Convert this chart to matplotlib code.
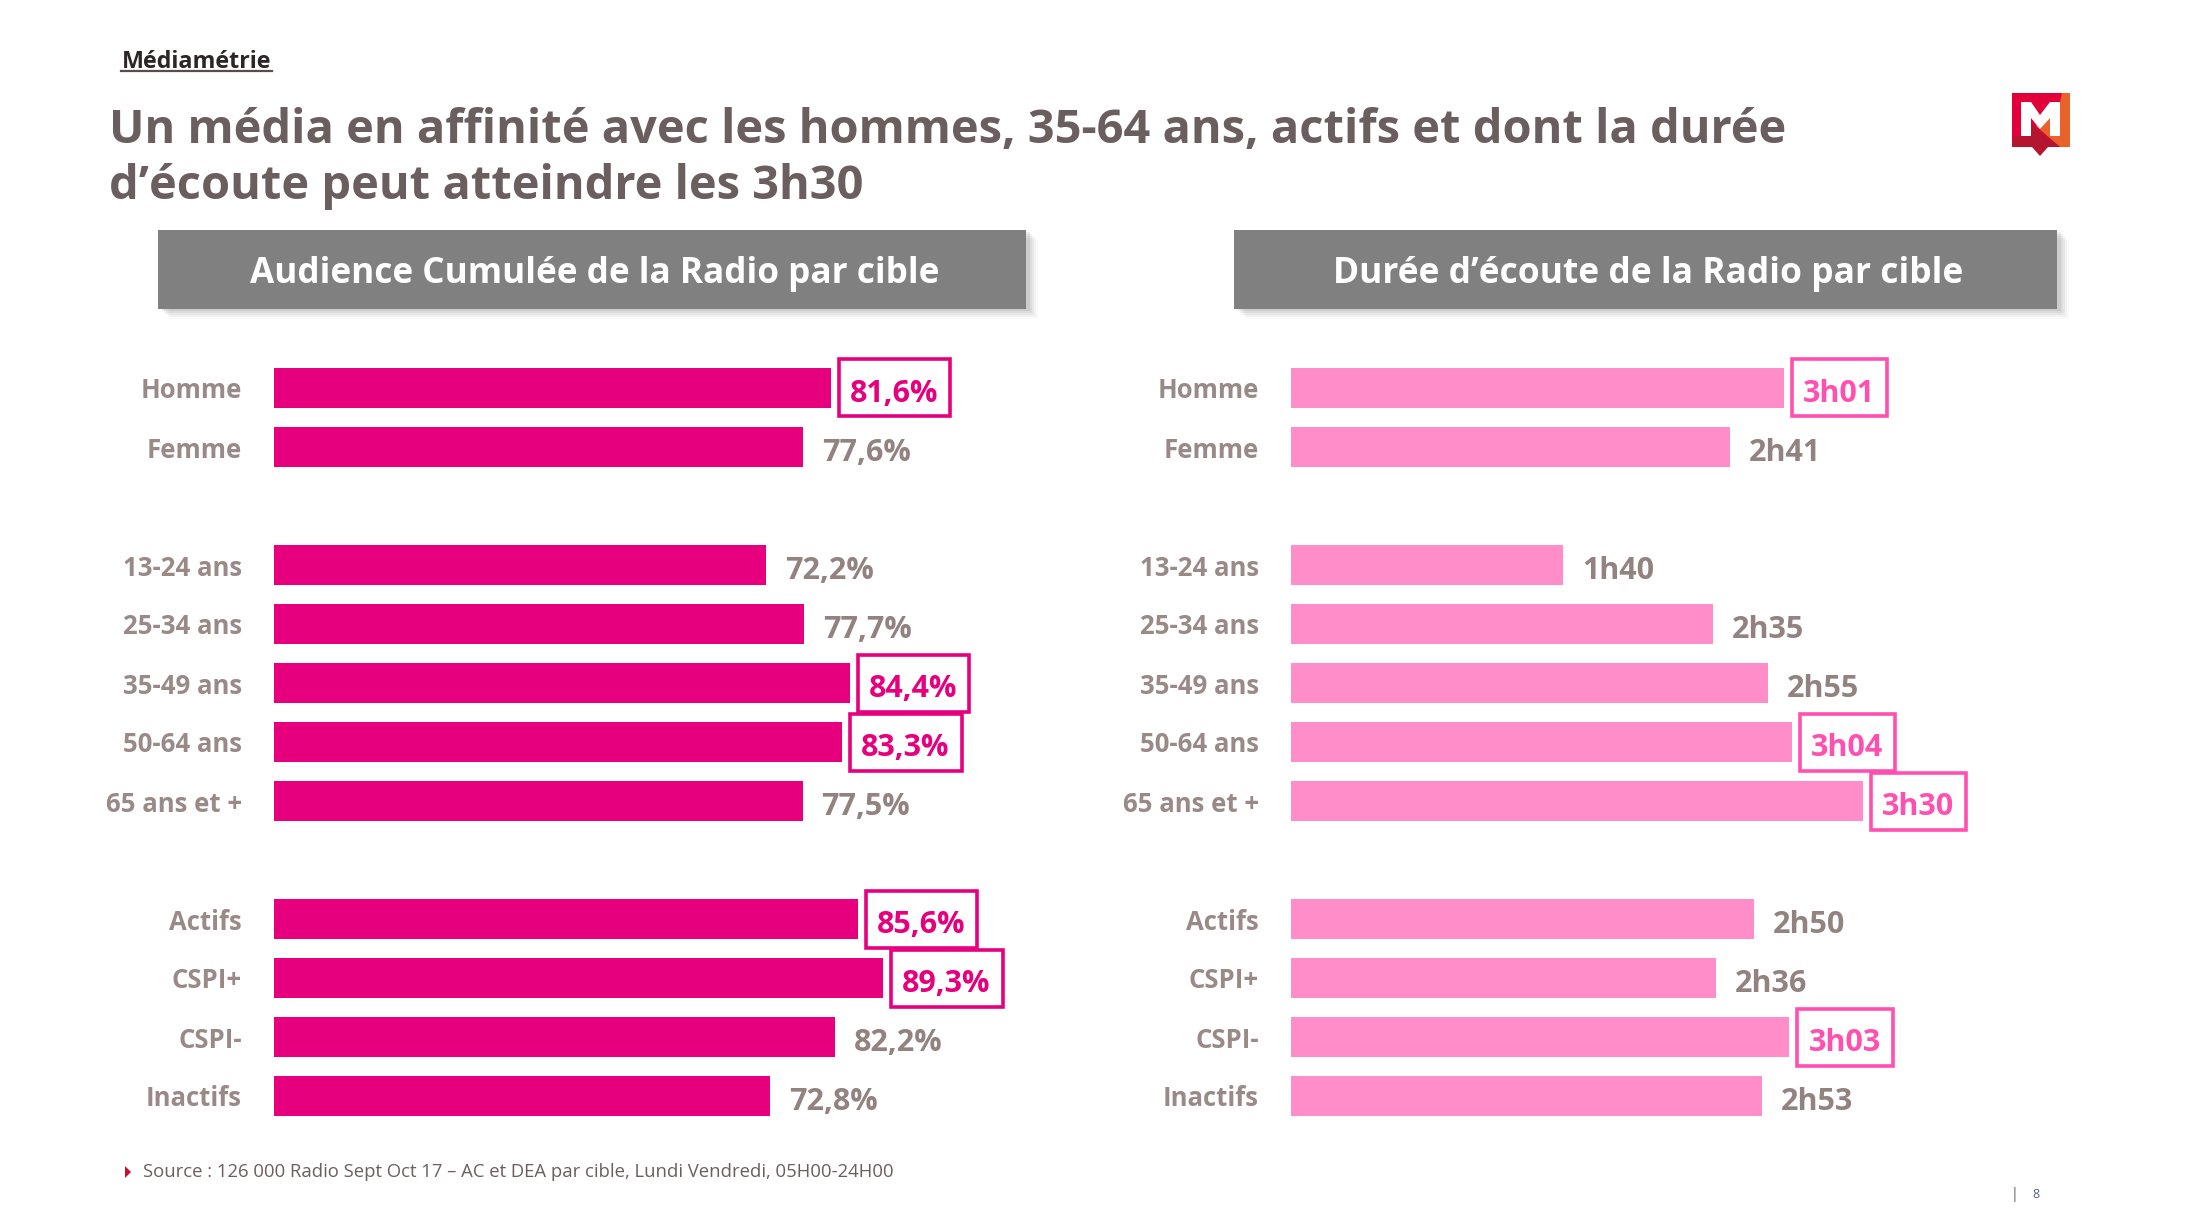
import matplotlib
matplotlib.use("Agg")
import matplotlib.pyplot as plt
from matplotlib.patches import Rectangle, Polygon

# ---------------- data ----------------
groups = [
    ["Homme", "Femme"],
    ["13-24 ans", "25-34 ans", "35-49 ans", "50-64 ans", "65 ans et +"],
    ["Actifs", "CSPI+", "CSPI-", "Inactifs"],
]
audience_pct = [81.6, 77.6, 72.2, 77.7, 84.4, 83.3, 77.5, 85.6, 89.3, 82.2, 72.8]
duree_min = [181, 161, 100, 155, 175, 184, 210, 170, 156, 183, 173]
highlight_audience = [True, False, False, False, True, True, False, True, True, False, False]
highlight_duree = [True, False, False, False, False, True, True, False, False, True, False]

title_lines = ["Un média en affinité avec les hommes, 35-64 ans, actifs et dont la durée",
               "d’écoute peut atteindre les 3h30"]
panel_titles = ["Audience Cumulée de la Radio par cible", "Durée d’écoute de la Radio par cible"]
source_text = "Source : 126 000 Radio Sept Oct 17 – AC et DEA par cible, Lundi Vendredi, 05H00-24H00"
brand = "Médiamétrie"
page_no = "8"

# ---------------- layout helpers ----------------
W, H = 2190, 1232
plt.rcParams["font.family"] = ["Open Sans", "DejaVu Sans"]
fig = plt.figure(figsize=(W / 100, H / 100), dpi=100)
fig.patch.set_facecolor("white")
renderer = fig.canvas.get_renderer()
PT = 100 / 72.0  # px per point


def fx(px):
    return px / W


def fy(py):
    return 1 - py / H


cats = [c for g in groups for c in g]
pos = []
p = 0
for g in groups:
    for _ in g:
        pos.append(p)
        p += 1
    p += 1

TITLE_C = "#6B5E5E"
GREY_T = "#998A88"
VAL_T = "#928280"
MAG = "#E6007E"
PINK = "#FF8DC9"
PINK_HI = "#FF4FB0"


def fit_text(x, y, s, target_w, size, **kw):
    t = fig.text(fx(x), fy(y), s, fontsize=size, **kw)
    bb = t.get_window_extent(renderer=renderer)
    t.set_fontsize(size * target_w / bb.width)
    return t


# brand + title
fit_text(122, 68, brand, 150, 17, fontweight="bold", color="#2E2626", va="baseline", ha="left")
fig.add_artist(plt.Line2D([fx(121), fx(272)], [fy(70.5), fy(70.5)], color="#5A4C4C", lw=1.6))

t1 = fit_text(109, 143, title_lines[0], 1677, 34, fontweight="bold", color=TITLE_C, va="baseline")
fig.text(fx(109), fy(199), title_lines[1], fontsize=t1.get_fontsize(), fontweight="bold",
         color=TITLE_C, va="baseline")

# panel header boxes
for (x0, x1), txt, tw, cx in zip([(158, 1026), (1234, 2057)], panel_titles, [690, 631], [595, 1648]):
    y0, y1 = 230, 309
    for k, a in enumerate([0.12, 0.09, 0.07, 0.05, 0.03]):
        off = 2 + 2 * k
        fig.add_artist(Rectangle((fx(x0 + off + 2), fy(y1 + off)), fx(x1 - x0), (y1 - y0) / H,
                                 transform=fig.transFigure, fc="#666666", ec="none", alpha=a))
    fig.add_artist(Rectangle((fx(x0), fy(y1)), fx(x1 - x0), (y1 - y0) / H,
                             transform=fig.transFigure, fc="#808080", ec="none"))
    fit_text(cx, 274, txt, tw, 25, fontweight="bold", color="white", ha="center", va="center")

# ---------------- bar panels ----------------
ROW = 59.0
top_px = 388 - ROW / 2
ax_h_px = ROW * (max(pos) + 1)


def fmt_pct(v):
    return f"{v:.1f}".replace(".", ",") + "%"


def fmt_min(m):
    return f"{m // 60}h{m % 60:02d}"


VAL_FS = 22
panels = [
    (274, 100, 682.0, audience_pct, highlight_audience, MAG, MAG, fmt_pct),
    (1291, 250, 681.0, duree_min, highlight_duree, PINK, PINK_HI, fmt_min),
]
for x0, xmax, wpx, vals, hl, col, hcol, fmt in panels:
    ax = fig.add_axes([fx(x0), fy(top_px + ax_h_px), wpx / W, ax_h_px / H])
    ax.barh(pos, vals, height=0.68, color=col)
    ax.set_xlim(0, xmax)
    ax.set_ylim(max(pos) + 0.5, -0.5)
    ax.set_yticks(pos)
    ax.set_yticklabels(cats, fontsize=18.5, fontweight="bold", color=GREY_T)
    ax.tick_params(axis="y", length=0, pad=32 / PT)
    ax.set_xticks([])
    for s in ax.spines.values():
        s.set_visible(False)
    ax.patch.set_alpha(0)
    for yv, v, h in zip(pos, vals, hl):
        tcol = hcol if h else VAL_T
        t = ax.annotate(fmt(v), (v, yv), xytext=(19 / PT, -14 / PT), textcoords="offset points",
                        fontsize=VAL_FS, fontweight="bold", color=tcol, va="baseline", ha="left")
        if h:
            bb = t.get_window_extent(renderer=renderer)
            bar_end_disp = ax.transData.transform((v, yv))
            bx0 = bar_end_disp[0] + 8
            bw = (bb.x1 - bx0) + 12
            bh = 57
            by0 = bar_end_disp[1] - bh / 2
            fig.add_artist(Rectangle((bx0 / W, by0 / H), bw / W, bh / H, transform=fig.transFigure,
                                     fc="none", ec=hcol, lw=2.6))

# ---------------- footer ----------------
fig.add_artist(Polygon([[fx(125), fy(1166)], [fx(131), fy(1172)], [fx(125), fy(1178)]],
                       closed=True, transform=fig.transFigure, fc="#C8102E", ec="none"))
fit_text(143, 1172, source_text, 754, 12.5, color=TITLE_C, va="center", ha="left")
fig.text(fx(2014), fy(1194), "|", fontsize=10, color="#6B5E5E", va="center", ha="center")
fig.text(fx(2036), fy(1194), page_no, fontsize=9, color="#556080", va="center", ha="center")

# ---------------- logo ----------------
lax = fig.add_axes([fx(2012), fy(156), 58 / W, 63 / H])
lax.set_xlim(0, 58)
lax.set_ylim(63, 0)
lax.axis("off")
lax.add_patch(Rectangle((0, 0), 58, 54, fc="#E2003A", ec="none"))
lax.add_patch(Polygon([(50, 0), (58, 0), (58, 54), (48, 54), (24, 33), (48, 9)], fc="#E8622A", ec="none"))
lax.add_patch(Polygon([(0, 47), (20, 32), (48, 54), (36, 54), (28, 63), (20, 54), (0, 54)],
                      fc="#B5162F", ec="none"))
lax.add_patch(Polygon([(9, 9), (19, 9), (28, 22), (38, 9), (48, 9), (48, 43), (38, 43), (38, 25),
                       (28, 36), (19, 25), (19, 43), (9, 43)], fc="white", ec="none"))

fig.savefig("out.png", dpi=100)
